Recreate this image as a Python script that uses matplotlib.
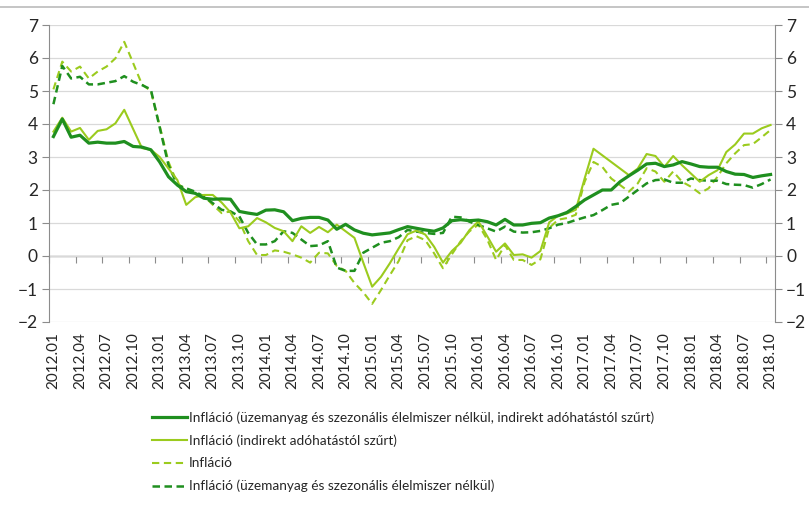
"""
Infláció mutatók 2012.01 - 2018.10 (éves változás, %)
"""

import numpy as np
import matplotlib.pyplot as plt
from matplotlib.lines import Line2D

plt.rcParams['font.family'] = ['Lato', 'DejaVu Sans']

# havi időszakok, 2012.01 - 2018.10
periods = [f"{y}.{m:02d}" for y in range(2012, 2019) for m in range(1, 13)][:82]

# Infláció (üzemanyag és szezonális élelmiszer nélkül, indirekt adóhatástól szűrt)
core_filtered = [3.62, 4.15, 3.6, 3.66, 3.42, 3.45, 3.42, 3.42, 3.47, 3.32, 3.3, 3.22,
                 2.85, 2.4, 2.15, 1.95, 1.9, 1.75, 1.72, 1.73, 1.72, 1.35, 1.3, 1.26,
                 1.39, 1.4, 1.34, 1.07, 1.14, 1.17, 1.17, 1.09, 0.81, 0.96, 0.79, 0.69,
                 0.64, 0.67, 0.7, 0.8, 0.89, 0.84, 0.79, 0.75, 0.85, 1.07, 1.1, 1.07,
                 1.09, 1.04, 0.94, 1.11, 0.94, 0.94, 0.99, 1.01, 1.15, 1.22, 1.32, 1.5,
                 1.7, 1.85, 2.0, 2.0, 2.25, 2.43, 2.6, 2.79, 2.81, 2.71, 2.76, 2.86,
                 2.79, 2.71, 2.69, 2.69, 2.56, 2.48, 2.47, 2.38, 2.43, 2.47]

# Infláció (indirekt adóhatástól szűrt)
filtered = [3.77, 4.19, 3.77, 3.88, 3.52, 3.79, 3.84, 4.02, 4.43, 3.85, 3.27, 3.22,
            3.0, 2.65, 2.3, 1.55, 1.78, 1.85, 1.85, 1.62, 1.32, 0.84, 0.9, 1.15,
            1.02, 0.85, 0.75, 0.45, 0.9, 0.7, 0.88, 0.72, 0.95, 0.75, 0.55, -0.2,
            -0.93, -0.63, -0.22, 0.23, 0.66, 0.77, 0.65, 0.28, -0.2, 0.15, 0.4, 0.79,
            1.05, 0.6, 0.13, 0.38, 0.03, 0.05, -0.05, 0.15, 1.02, 1.22, 1.29, 1.4,
            2.35, 3.25, 3.05, 2.85, 2.65, 2.45, 2.65, 3.09, 3.03, 2.7, 3.03, 2.75,
            2.5, 2.25, 2.45, 2.6, 3.15, 3.38, 3.71, 3.71, 3.87, 3.97]

# Infláció
headline = [5.05, 5.89, 5.59, 5.74, 5.38, 5.59, 5.74, 5.99, 6.49, 5.85, 5.2, 5.0,
            3.95, 2.85, 2.2, 2.0, 1.9, 1.82, 1.55, 1.3, 1.35, 1.05, 0.45, 0.03,
            0.03, 0.17, 0.13, 0.05, -0.05, -0.2, 0.1, 0.08, -0.3, -0.45, -0.82, -1.1,
            -1.45, -1.03, -0.58, -0.15, 0.48, 0.6, 0.48, 0.08, -0.37, 0.05, 0.45, 0.75,
            0.95, 0.5, -0.12, 0.33, -0.12, -0.12, -0.27, -0.1, 0.85, 1.1, 1.15, 1.25,
            2.25, 2.85, 2.7, 2.35, 2.15, 1.95, 2.2, 2.66, 2.56, 2.25, 2.56, 2.25,
            2.1, 1.9, 2.05, 2.4, 2.81, 3.11, 3.36, 3.39, 3.6, 3.82]

# Infláció (üzemanyag és szezonális élelmiszer nélkül)
core = [4.6, 5.76, 5.38, 5.43, 5.2, 5.2, 5.25, 5.3, 5.45, 5.28, 5.18, 5.05,
        3.9, 2.75, 2.15, 2.05, 1.95, 1.8, 1.6, 1.4, 1.35, 1.2, 0.7, 0.35,
        0.35, 0.45, 0.75, 0.7, 0.5, 0.3, 0.32, 0.45, -0.35, -0.45, -0.45, 0.1,
        0.25, 0.4, 0.45, 0.57, 0.79, 0.74, 0.7, 0.67, 0.7, 1.19, 1.17, 1.04,
        0.94, 0.84, 0.74, 0.89, 0.74, 0.71, 0.72, 0.76, 0.84, 0.95, 1.0, 1.09,
        1.17, 1.24, 1.39, 1.55, 1.6, 1.8, 2.0, 2.2, 2.3, 2.32, 2.22, 2.22,
        2.35, 2.3, 2.28, 2.28, 2.18, 2.16, 2.15, 2.07, 2.18, 2.32]

DARK = '#1F8F1F'
LIGHT = '#9BCB1E'
GREY = '#8c8c8c'
GRID = '#d9d9d9'
TXT = '#262626'

fig = plt.figure(figsize=(8.09, 5.05), dpi=100)
ax = fig.add_axes([49 / 809, 1 - 322 / 505, 726 / 809, 297 / 505])

x = np.arange(len(periods))
l1, = ax.plot(x, core_filtered, color=DARK, lw=2.3, zorder=5,
              label='Infláció (üzemanyag és szezonális élelmiszer nélkül, indirekt adóhatástól szűrt)')
l2, = ax.plot(x, filtered, color=LIGHT, lw=1.5, zorder=4,
              label='Infláció (indirekt adóhatástól szűrt)')
l3, = ax.plot(x, headline, color=LIGHT, lw=1.5, ls=(0, (3.5, 2.2)), zorder=3,
              label='Infláció')
l4, = ax.plot(x, core, color=DARK, lw=1.8, ls=(0, (3, 1.8)), zorder=3,
              label='Infláció (üzemanyag és szezonális élelmiszer nélkül)')

ax.set_xlim(-0.5, len(periods) - 0.5)
ax.set_ylim(-2, 7)
ax.set_yticks(range(-2, 8))
ax.yaxis.grid(True, color=GRID, lw=0.9)
ax.set_axisbelow(True)

ax.set_xticks(x[::3])
ax.set_xticklabels(periods[::3], rotation=90, fontsize=11, color=TXT)
ax.tick_params(axis='x', length=0, pad=7)
ax.tick_params(axis='y', direction='out', length=5, color=GREY, labelsize=12.5,
               labelcolor=TXT, pad=3)

for s in ['top', 'bottom', 'right']:
    ax.spines[s].set_visible(False)
ax.spines['left'].set_color(GREY)

# jobb oldali tengely
ax2 = ax.twinx()
ax2.set_ylim(-2, 7)
ax2.set_yticks(range(-2, 8))
ax2.tick_params(axis='y', direction='out', length=5, color=GREY, labelsize=12.5,
                labelcolor=TXT, pad=3)
for s in ['top', 'bottom', 'left']:
    ax2.spines[s].set_visible(False)
ax2.spines['right'].set_color(GREY)

# kategória-tengely a nullánál
sec = ax.secondary_xaxis(2 / 9)
sec.set_xticks(np.arange(-0.5, len(periods), 3))
sec.tick_params(axis='x', direction='out', length=5, color=GREY, labelbottom=False)
sec.spines['bottom'].set_color(GREY)
sec.spines['bottom'].set_linewidth(1.0)

# felső szegély
fig.add_artist(Line2D([0, 1], [1 - 7 / 505] * 2, color='#c0c0c0', lw=1.3))

fig.legend(handles=[l1, l2, l3, l4], loc='upper left',
           bbox_to_anchor=(152 / 809, 1 - 411 / 505), frameon=False,
           fontsize=9.8, handlelength=2.6, handletextpad=0.1, labelspacing=0.78,
           borderpad=0, borderaxespad=0, labelcolor=TXT)

fig.savefig('out.png', dpi=100, facecolor='white')
